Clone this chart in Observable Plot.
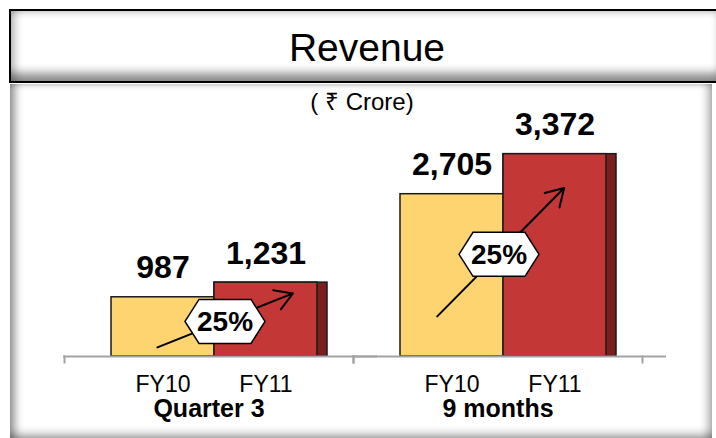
<!DOCTYPE html>
<html>
<head>
<meta charset="utf-8">
<script src="https://cdn.jsdelivr.net/npm/d3@7"></script>
<script src="https://cdn.jsdelivr.net/npm/@observablehq/plot@0.6"></script>
<style>
  html, body { margin: 0; padding: 0; }
  body { width: 716px; height: 438px; overflow: hidden; background: #fff; position: relative;
         font-family: "Liberation Sans", Arial, sans-serif; color: #000; }
  #header { position: absolute; left: 9px; top: 9px; width: 712px; height: 70px;
            border: 2px solid #000; background: #fff; text-align: center;
            font-size: 39px; line-height: 74px; overflow: hidden;
            box-shadow: inset 0 -14px 10px -6px rgba(0,0,0,.45),
                        inset 10px 0 8px -6px rgba(0,0,0,.28),
                        inset -10px 0 8px -6px rgba(0,0,0,.28),
                        inset 0 8px 6px -6px rgba(0,0,0,.2); }
  #panel { position: absolute; left: 10px; top: 84px; width: 702px; height: 354px;
           box-shadow: inset 10px 0 8px -5px rgba(0,0,0,.42),
                       inset -9px 0 8px -5px rgba(0,0,0,.32),
                       inset 0 -9px 8px -5px rgba(0,0,0,.32),
                       inset 0 6px 6px -5px rgba(0,0,0,.2); }
  #unit { position: absolute; left: 0; top: 88px; width: 724px; text-align: center;
          font-size: 24px; line-height: 28px; }
  #chart { position: absolute; left: 0; top: 84px; }
</style>
</head>
<body>
<div id="panel"></div>
<div id="header">Revenue</div>
<div id="unit">( ₹ Crore)</div>
<div id="chart"></div>
<script>
// ---- data ----
const groups = ["Quarter 3", "9 months"];
const years = ["FY10", "FY11"];
const fy10 = [987, 2705];
const fy11 = [1231, 3372];
// growth-arrow annotation levels (₹ Crore)
const arrowFrom = [190, 918];
const arrowTo = [873, 2654];
const badgeLevel = [584, 1703];

// ---- tables built from the arrays ----
const rows = groups.flatMap((g, i) => [
  {group: g, year: years[0], value: fy10[i]},
  {group: g, year: years[1], value: fy11[i]}
]);
const growth = groups.map((g, i) => ({
  group: g, from: arrowFrom[i], to: arrowTo[i], level: badgeLevel[i],
  label: Math.round((fy11[i] / fy10[i] - 1) * 100) + "%"
}));

// ---- styles ----
const yellow = "#FDD470", red = "#C43737", darkRed = "#7A1F1F", edge = "#1a1a1a", axisGray = "#a3a3a3";
const hexagon = {
  draw(ctx) {
    const w = 40, h = 22, p = 14;
    ctx.moveTo(-w, 0); ctx.lineTo(-w + p, -h); ctx.lineTo(w - p, -h);
    ctx.lineTo(w, 0); ctx.lineTo(w - p, h); ctx.lineTo(-w + p, h); ctx.closePath();
  }
};
// per-group annotation styling (pixel offsets)
const noteStyle = {
  "Quarter 3": {badgeDx: 62, insetStart: -6, insetEnd: -29},
  "9 months": {badgeDx: 47, insetStart: -21, insetEnd: -13}
};

const annotationMarks = groups.flatMap(g => {
  const d = growth.filter(r => r.group === g);
  const s = noteStyle[g];
  return [
    Plot.arrow(d, {fx: "group", x1: () => "FY10", y1: "from", x2: () => "FY11", y2: "to",
      stroke: "#000", strokeWidth: 2, headLength: 15, headAngle: 62,
      insetStart: s.insetStart, insetEnd: s.insetEnd}),
    Plot.dot(d, {fx: "group", x: () => "FY10", y: "level", dx: s.badgeDx, symbol: hexagon, r: 10,
      fill: "#fff", stroke: "#000", strokeWidth: 1.5}),
    Plot.text(d, {fx: "group", x: () => "FY10", y: "level", dx: s.badgeDx, dy: 1, text: "label",
      fontSize: 28, fontWeight: "bold", fill: "#000", lineAnchor: "middle"})
  ];
});

const chart = Plot.plot({
  width: 716,
  height: 354,
  marginLeft: 63,
  marginRight: 74,
  marginTop: 62,
  marginBottom: 82,
  style: {background: "transparent", fontFamily: "Liberation Sans, Arial, sans-serif", color: "#000"},
  fx: {domain: groups, padding: 0},
  x: {domain: years, paddingInner: 0, paddingOuter: 0.392, align: 0.564},
  y: {domain: [0, 3500], axis: null},
  marks: [
    Plot.barY(rows.filter(d => d.year === "FY11"), {fx: "group", x: "year", y: "value",
      fill: darkRed, stroke: edge, strokeWidth: 1.5, insetRight: -10}),
    Plot.barY(rows, {fx: "group", x: "year", y: "value",
      fill: d => d.year === "FY10" ? yellow : red, stroke: edge, strokeWidth: 1.5}),
    Plot.ruleY([0], {stroke: axisGray, strokeWidth: 2, insetLeft: -1, insetRight: -24}),
    Plot.frame({anchor: "left", stroke: axisGray, strokeWidth: 2, insetTop: 210, insetBottom: -6}),
    Plot.frame({anchor: "right", stroke: axisGray, strokeWidth: 2, insetTop: 210, insetBottom: -6}),
    Plot.text(rows, {fx: "group", x: "year", y: "value", text: d => d3.format(",")(d.value),
      lineAnchor: "bottom", dy: -19, fontSize: 32, fontWeight: "bold", fill: "#000"}),
    ...annotationMarks,
    Plot.axisX({anchor: "bottom", tickSize: 0, tickPadding: 19, fontSize: 23, label: null, fill: "#000"}),
    Plot.axisFx({anchor: "bottom", tickSize: 0, tickPadding: 43, fontSize: 25, fontWeight: "bold", label: null, fill: "#000"})
  ]
});
document.getElementById("chart").appendChild(chart);
</script>
</body>
</html>
